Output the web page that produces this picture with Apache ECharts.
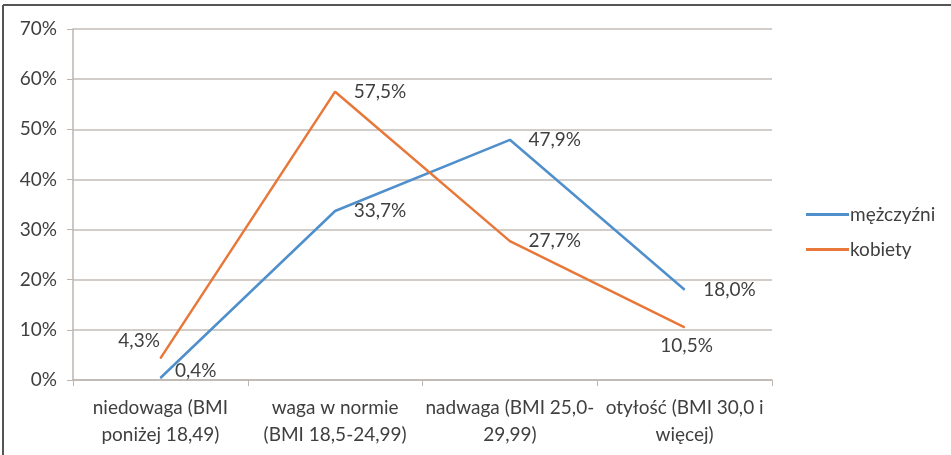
<!DOCTYPE html>
<html>
<head>
<meta charset="utf-8">
<script src="https://cdn.jsdelivr.net/npm/echarts@6/dist/echarts.min.js"></script>
<style>
  html, body { margin: 0; padding: 0; background: #fff; }
  #chart { width: 951px; height: 455px; }
</style>
</head>
<body>
<div id="chart"></div>
<script>
var kategorie = [
    'niedowaga (BMI\nponiżej 18,49)',
    'waga w normie\n(BMI 18,5-24,99)',
    'nadwaga (BMI 25,0-\n29,99)',
    'otyłość (BMI 30,0 i\nwięcej)'
];
var mezczyzni = [0.4, 33.7, 47.9, 18.0];
var kobiety = [4.3, 57.5, 27.7, 10.5];
var yTicks = [0, 10, 20, 30, 40, 50, 60, 70];

var txtColor = '#3f3f3f';
var fnt = 'Lato, "Open Sans", sans-serif';
var fs = 19;

function fmt(v) {
    return v.toFixed(1).replace('.', ',') + '%';
}

// etykiety przesuniete tak jak w oryginale
var labM = [
    { position: 'right', distance: 14, offset: [0, -7] },
    { position: 'right', distance: 18 },
    { position: 'right', distance: 18 },
    { position: 'right', distance: 18 }
];
var labK = [
    { position: 'left', distance: 2, offset: [2, -18] },
    { position: 'right', distance: 18 },
    { position: 'right', distance: 18 },
    { position: 'bottom', distance: 9, offset: [2, 0] }
];

function build(vals, labs) {
    return vals.map(function (v, i) {
        return { value: v, label: labs[i] };
    });
}

var chart = echarts.init(document.getElementById('chart'));

var option = {
    backgroundColor: '#fff',
    animation: false,
    textStyle: { fontFamily: fnt },
    graphic: [
        { type: 'line', shape: { x1: 3, y1: 5, x2: 951, y2: 5 }, style: { stroke: '#555', lineWidth: 2 } },
        { type: 'line', shape: { x1: 3, y1: 5, x2: 3, y2: 455 }, style: { stroke: '#555', lineWidth: 2 } }
    ],
    grid: { left: 73, right: 179, top: 29, bottom: 75 },
    legend: {
        orient: 'vertical',
        left: 801,
        top: 200,
        itemGap: 16,
        itemWidth: 43,
        itemHeight: 3,
        icon: 'rect',
        textStyle: { color: txtColor, fontSize: fs, fontFamily: fnt, padding: [0, 0, 0, -4] },
        data: ['mężczyźni', 'kobiety']
    },
    xAxis: {
        type: 'category',
        data: kategorie,
        boundaryGap: true,
        axisLine: { lineStyle: { color: '#bdb5b0', width: 1.5 } },
        axisTick: { show: true, length: 6, lineStyle: { color: '#bdb5b0' } },
        axisLabel: { color: txtColor, fontSize: fs, lineHeight: 27, margin: 14, interval: 0, fontFamily: fnt }
    },
    yAxis: {
        type: 'value',
        min: 0,
        max: 70,
        interval: 10,
        axisLine: { show: true, lineStyle: { color: '#bdb5b0', width: 1.5 } },
        axisTick: { show: true, length: 6, inside: false, lineStyle: { color: '#bdb5b0' } },
        splitLine: { lineStyle: { color: '#c4bcb8', width: 1.5 } },
        axisLabel: {
            color: txtColor, fontSize: fs, margin: 16, fontFamily: fnt,
            formatter: function (v) { return yTicks.indexOf(v) >= 0 ? v + '%' : ''; }
        }
    },
    series: [
        {
            name: 'mężczyźni',
            type: 'line',
            data: build(mezczyzni, labM),
            symbol: 'circle',
            symbolSize: 1,
            color: '#4f8fcb',
            lineStyle: { width: 2.5, color: '#4f8fcb' },
            label: {
                show: true, color: txtColor, fontSize: fs, fontFamily: fnt,
                formatter: function (p) { return fmt(p.value); }
            }
        },
        {
            name: 'kobiety',
            type: 'line',
            data: build(kobiety, labK),
            symbol: 'circle',
            symbolSize: 1,
            color: '#e8783a',
            lineStyle: { width: 2.5, color: '#e8783a' },
            label: {
                show: true, color: txtColor, fontSize: fs, fontFamily: fnt,
                formatter: function (p) { return fmt(p.value); }
            }
        }
    ]
};

chart.setOption(option);
</script>
</body>
</html>
